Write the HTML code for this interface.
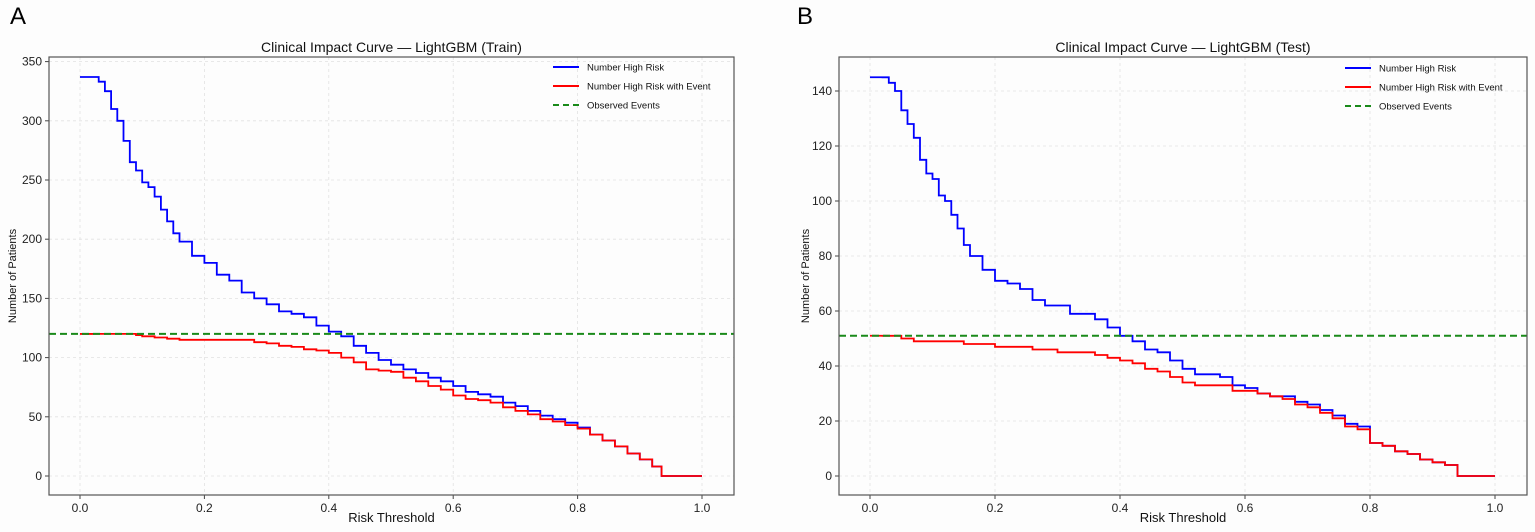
<!DOCTYPE html>
<html><head><meta charset="utf-8"><style>
body{margin:0;background:#fdfdfd;}
svg{display:block;font-family:"Liberation Sans",sans-serif;}
</style></head><body>
<svg id="s" width="1535" height="532" xmlns="http://www.w3.org/2000/svg">
<rect width="1535" height="532" fill="#fdfdfd"/>
<text x="10" y="24" font-size="24">A</text>
<text x="797" y="24" font-size="24">B</text>
</svg>
<script>
const xTicks=[0,0.2,0.4,0.6,0.8,1.0];
const xTickLabels=["0.0","0.2","0.4","0.6","0.8","1.0"];
const aYTicks=[0,50,100,150,200,250,300,350];
const bYTicks=[0,20,40,60,80,100,120,140];
const aThr=[0,0.02,0.03,0.04,0.05,0.06,0.07,0.08,0.09,0.10,0.11,0.12,0.13,0.14,0.15,0.16,0.18,0.20,0.22,0.24,0.26,0.28,0.30,0.32,0.34,0.36,0.38,0.40,0.42,0.44,0.46,0.48,0.50,0.52,0.54,0.56,0.58,0.60,0.62,0.64,0.66,0.68,0.70,0.72,0.74,0.76,0.78,0.80,0.82,0.84,0.86,0.88,0.90,0.92,0.935,1.0];
const aHigh=[337,337,333,325,310,300,283,265,258,248,244,236,225,215,205,198,186,180,170,165,155,150,145,139,137,134,127,122,118,110,104,98,94,90,87,83,80,76,71,69,67,62,59,55,51,48,45,41,35,30,25,19,14,8,0,0];
const aEvent=[120,120,120,120,120,120,120,120,119,118,118,117,117,116,116,115,115,115,115,115,115,113,112,110,109,107,106,104,100,96,90,89,88,83,80,76,73,68,65,64,62,58,55,52,48,46,43,40,35,30,25,19,14,8,0,0];
const aObserved=120;
const bThr=[0,0.02,0.03,0.04,0.05,0.06,0.07,0.08,0.09,0.10,0.11,0.12,0.13,0.14,0.15,0.16,0.18,0.20,0.22,0.24,0.26,0.28,0.30,0.32,0.34,0.36,0.38,0.40,0.42,0.44,0.46,0.48,0.50,0.52,0.54,0.56,0.58,0.60,0.62,0.64,0.66,0.68,0.70,0.72,0.74,0.76,0.78,0.80,0.82,0.84,0.86,0.88,0.90,0.92,0.94,1.0];
const bHigh=[145,145,143,140,133,128,123,115,110,108,102,100,95,90,84,80,75,71,70,68,64,62,62,59,59,57,54,51,49,46,45,42,39,37,37,36,33,32,30,29,29,27,26,24,22,19,18,12,11,9,8,6,5,4,0,0];
const bEvent=[51,51,51,51,50,50,49,49,49,49,49,49,49,49,48,48,48,47,47,47,46,46,45,45,45,44,43,42,41,39,38,36,34,33,33,33,31,31,30,29,28,26,25,23,21,18,17,12,11,9,8,6,5,4,0,0];
const bObserved=51;
const svg=document.getElementById('s');
const NS='http://www.w3.org/2000/svg';
function mk(tag,attrs,parent){const e=document.createElementNS(NS,tag);for(const k in attrs)e.setAttribute(k,attrs[k]);(parent||svg).appendChild(e);return e;}
function panel(p){
  const g=mk('g',{});
  
  
  const X=t=>p.x0+t*(p.x1-p.x0);
  const Y=v=>p.y0-v*p.ky;
  const plot=mk('rect',{x:p.L,y:p.T,width:p.R-p.L,height:p.B-p.T,fill:'#fdfdfd',stroke:'none'},g);
  
  
  xTicks.forEach((t,i)=>{
    const gl=mk('line',{x1:X(t),x2:X(t),y1:p.T,y2:p.B,stroke:'#e2e2e2','stroke-dasharray':'3,3','stroke-width':0.8},g);
    
    
    mk('line',{x1:X(t),x2:X(t),y1:p.B,y2:p.B+4,stroke:'#444'},g);
    const tx=mk('text',{x:X(t),y:p.B+17,'font-size':12,'text-anchor':'middle',fill:'#222'},g);
    tx.textContent=xTickLabels[i];
    
    
  });
  p.yt.forEach(v=>{
    const gl=mk('line',{x1:p.L,x2:p.R,y1:Y(v),y2:Y(v),stroke:'#e2e2e2','stroke-dasharray':'3,3','stroke-width':0.8},g);
    
    
    mk('line',{x1:p.L-4,x2:p.L,y1:Y(v),y2:Y(v),stroke:'#444'},g);
    const tx=mk('text',{x:p.L-7,y:Y(v)+4,'font-size':12,'text-anchor':'end',fill:'#222'},g);
    tx.textContent=String(v);
    
    
  });
  function step(th,vals,color,name){
    let d='M'+X(th[0])+','+Y(vals[0]);
    for(let i=1;i<th.length;i++){d+=' H'+X(th[i]).toFixed(1)+' V'+Y(vals[i]).toFixed(1);}
    const pa=mk('path',{d:d,fill:'none',stroke:color,'stroke-width':1.8},g);
    
    
  }
  step(p.th,p.hi,'#0000ff',p.id+'-high-risk-line');
  step(p.th,p.ev,'#ff0000',p.id+'-event-line');
  const ob=mk('line',{x1:p.L,x2:p.R,y1:Y(p.obs),y2:Y(p.obs),stroke:'#1a8a1a','stroke-width':2,'stroke-dasharray':'7,4'},g);
  
  
  const fr=mk('rect',{x:p.L,y:p.T,width:p.R-p.L,height:p.B-p.T,fill:'none',stroke:'#555','stroke-width':1.2},g);
  
  
  const ti=mk('text',{x:(p.L+p.R)/2,y:p.T-5,'font-size':14,'text-anchor':'middle',fill:'#111'},g);
  ti.textContent=p.title;
  
  
  const xl=mk('text',{x:(p.L+p.R)/2,y:p.B+27,'font-size':13,'text-anchor':'middle',fill:'#111'},g);
  xl.textContent='Risk Threshold';
  
  
  const yl=mk('text',{x:p.ylx,y:(p.T+p.B)/2,'font-size':11,'text-anchor':'middle',fill:'#111',transform:'rotate(-90 '+p.ylx+' '+((p.T+p.B)/2)+')'},g);
  yl.textContent='Number of Patients';
  
  
  const lg=mk('g',{},g);
  
  
  const items=[['Number High Risk','#0000ff',''],['Number High Risk with Event','#ff0000',''],['Observed Events','#1a8a1a','6,4']];
  items.forEach((it,i)=>{
    const yy=p.lgy+i*19;
    mk('line',{x1:p.lgx,x2:p.lgx+26,y1:yy,y2:yy,stroke:it[1],'stroke-width':2,'stroke-dasharray':it[2]||'none'},lg);
    const t=mk('text',{x:p.lgx+34,y:yy+3.5,'font-size':9.5,fill:'#111'},lg);
    t.textContent=it[0];
    
    
  });
}
panel({id:'train',L:49,R:734,T:57,B:495,x0:80,x1:702,y0:476,ky:1.184,yt:aYTicks,th:aThr,hi:aHigh,ev:aEvent,obs:aObserved,title:'Clinical Impact Curve — LightGBM (Train)',ylx:16,lgx:553,lgy:67});
panel({id:'test',L:839,R:1527,T:57,B:495,x0:870,x1:1495,y0:476,ky:2.75,yt:bYTicks,th:bThr,hi:bHigh,ev:bEvent,obs:bObserved,title:'Clinical Impact Curve — LightGBM (Test)',ylx:809,lgx:1345,lgy:68});
</script>
</body></html>
